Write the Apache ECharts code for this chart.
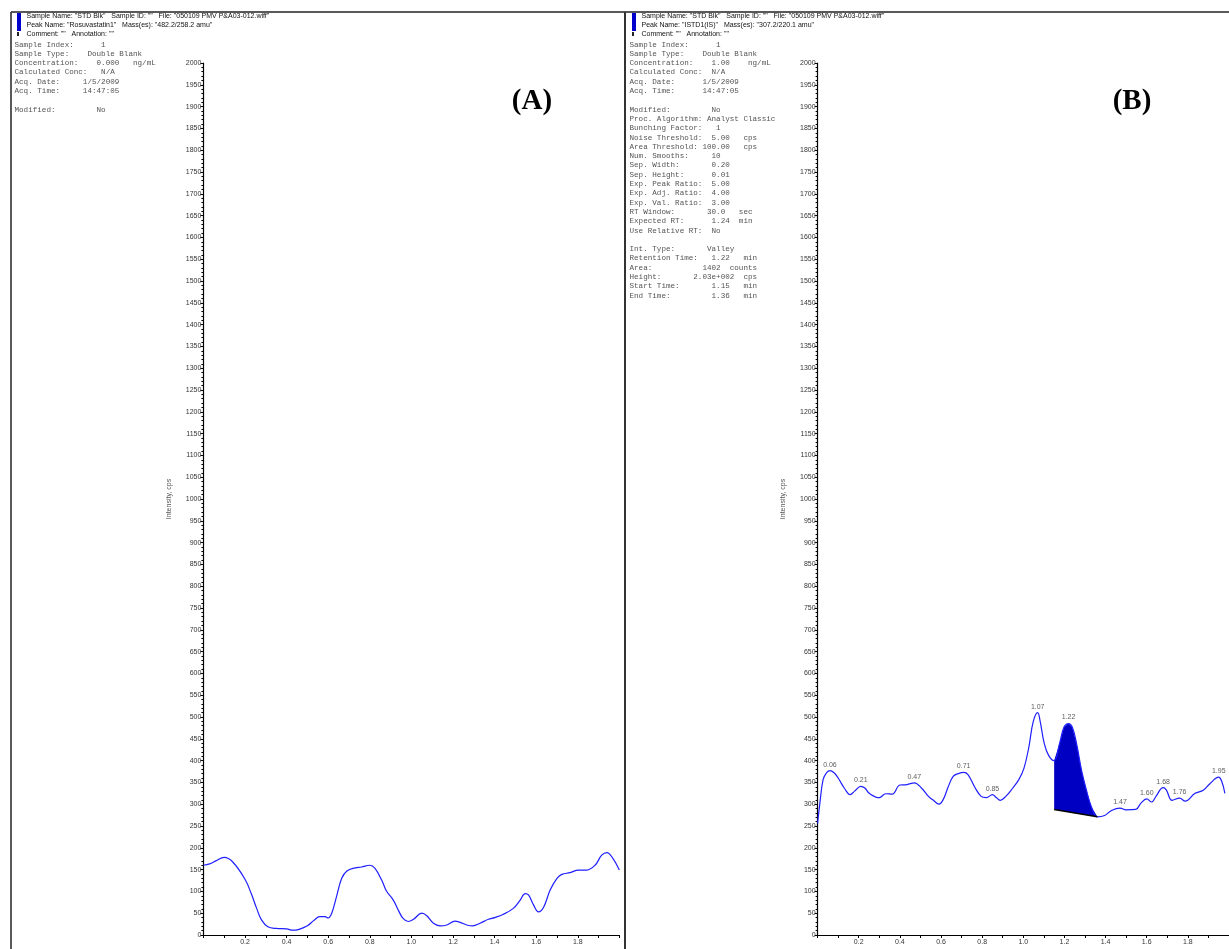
<!DOCTYPE html>
<html>
<head>
<meta charset="utf-8">
<title>Rosuvastatin / ISTD blank chromatograms</title>
<script src="https://cdn.jsdelivr.net/npm/echarts@6/dist/echarts.min.js"></script>
<style>
  html, body { margin: 0; padding: 0; background: #fff; }
  #chart { width: 1229px; height: 949px; }
</style>
</head>
<body>
<div id="chart"></div>
<script>
// ---- Panel A: Rosuvastatin1 (482.2/258.2 amu), double blank ----
const timeA = [0, 0.03, 0.06, 0.1, 0.14, 0.2, 0.23, 0.256, 0.28, 0.31,
  0.35, 0.4, 0.43, 0.46, 0.5, 0.53, 0.56, 0.585, 0.6, 0.617,
  0.64, 0.665, 0.69, 0.73, 0.76, 0.8, 0.825, 0.857, 0.88, 0.913,
  0.937, 0.96, 0.985, 1.01, 1.05, 1.074, 1.106, 1.138, 1.17, 1.21,
  1.234, 1.266, 1.295, 1.33, 1.37, 1.40, 1.44, 1.49, 1.523, 1.547,
  1.563, 1.587, 1.611, 1.635, 1.667, 1.70, 1.723, 1.763, 1.803, 1.843,
  1.883, 1.915, 1.94, 1.964, 2.0];
const intensityA = [160, 163, 170, 178, 168, 128, 95, 61, 34, 19,
  15, 14, 11, 13, 21, 33, 42, 42, 39, 50,
  88, 130, 147, 154, 156, 160, 153, 126, 101, 80,
  57, 38, 31, 36, 50, 44, 27, 21, 23, 32,
  29, 23, 21, 27, 36, 40, 47, 61, 80, 95,
  92, 69, 53, 63, 103, 130, 139, 143, 149, 149,
  160, 183, 189, 179, 149];

// ---- Panel B: ISTD1(IS) (307.2/220.1 amu) ----
const timeB = [0, 0.011, 0.027, 0.045, 0.06, 0.08, 0.1, 0.131, 0.158, 0.18,
  0.21, 0.23, 0.251, 0.3, 0.331, 0.363, 0.4, 0.435, 0.47, 0.507,
  0.539, 0.563, 0.59, 0.611, 0.635, 0.659, 0.683, 0.71, 0.731, 0.763,
  0.795, 0.82, 0.85, 0.867, 0.888, 0.915, 0.947, 0.979, 1.003, 1.027,
  1.048, 1.07, 1.082, 1.102, 1.123, 1.15, 1.176, 1.198, 1.22, 1.238,
  1.259, 1.283, 1.307, 1.331, 1.36, 1.395, 1.427, 1.47, 1.5, 1.547,
  1.571, 1.6, 1.624, 1.645, 1.68, 1.695, 1.723, 1.76, 1.787, 1.835,
  1.875, 1.907, 1.95, 1.965, 1.98];
const intensityB = [256, 302, 357, 373, 377, 372, 360, 336, 322, 330,
  341, 337, 325, 315, 324, 323, 344, 345, 349, 336,
  318, 309, 300, 311, 340, 364, 370, 373, 368, 340,
  318, 315, 322, 316, 309, 318, 336, 357, 382, 431,
  489, 510, 490, 439, 412, 400, 439, 477, 485, 477,
  439, 378, 332, 294, 271, 274, 285, 291, 287, 288,
  302, 312, 305, 318, 338, 333, 309, 314, 307, 325,
  332, 347, 362, 352, 325];

// retention times annotated above the apexes of panel B
const peakTimesB = [0.06, 0.21, 0.47, 0.71, 0.85, 1.07, 1.22, 1.47, 1.60, 1.68, 1.76, 1.95];

// integrated IS peak (valley to valley) and its baseline end values
const integStart = 1.15, integEnd = 1.36;
const baselineStartValue = 288, baselineEndValue = 271;

// ---- header and result-table text ----
const headerA = [
  'Sample Name: "STD Blk"   Sample ID: ""   File: "050109 PMV P&A03-012.wiff"',
  'Peak Name: "Rosuvastatin1"   Mass(es): "482.2/258.2 amu"',
  'Comment: ""   Annotation: ""'
];
const headerB = [
  'Sample Name: "STD Blk"   Sample ID: ""   File: "050109 PMV P&A03-012.wiff"',
  'Peak Name: "ISTD1(IS)"   Mass(es): "307.2/220.1 amu"',
  'Comment: ""   Annotation: ""'
];
const infoA = [
  'Sample Index:      1',
  'Sample Type:    Double Blank',
  'Concentration:    0.000   ng/mL',
  'Calculated Conc:   N/A',
  'Acq. Date:     1/5/2009',
  'Acq. Time:     14:47:05',
  '',
  'Modified:         No'
];
const infoB = [
  'Sample Index:      1',
  'Sample Type:    Double Blank',
  'Concentration:    1.00    ng/mL',
  'Calculated Conc:  N/A',
  'Acq. Date:      1/5/2009',
  'Acq. Time:      14:47:05',
  '',
  'Modified:         No',
  'Proc. Algorithm: Analyst Classic',
  'Bunching Factor:   1',
  'Noise Threshold:  5.00   cps',
  'Area Threshold: 100.00   cps',
  'Num. Smooths:     10',
  'Sep. Width:       0.20',
  'Sep. Height:      0.01',
  'Exp. Peak Ratio:  5.00',
  'Exp. Adj. Ratio:  4.00',
  'Exp. Val. Ratio:  3.00',
  'RT Window:       30.0   sec',
  'Expected RT:      1.24  min',
  'Use Relative RT:  No',
  '',
  'Int. Type:       Valley',
  'Retention Time:   1.22   min',
  'Area:           1402  counts',
  'Height:       2.03e+002  cps',
  'Start Time:       1.15   min',
  'End Time:         1.36   min'
];
const yAxisTitle = 'Intensity, cps';

// ---------------------------------------------------------------
const chart = echarts.init(document.getElementById('chart'), null, { renderer: 'canvas' });

const LINE_BLUE = '#1f1fff';
const FILL_BLUE = '#0000c2';
const SANS = '"Liberation Sans", Arial, sans-serif';
const MONO = '"Liberation Mono", "Courier New", monospace';

function pairs(xs, ys) { return xs.map((x, i) => [x, ys[i]]); }

function makeXAxis(gridIndex) {
  return {
    type: 'value', gridIndex, min: 0, max: 2, interval: 0.2,
    axisLine: { show: true, onZero: false, lineStyle: { color: '#000', width: 1.2 } },
    axisTick: { show: true, length: 3, lineStyle: { color: '#000' } },
    minorTick: { show: true, splitNumber: 2, length: 3, lineStyle: { color: '#000' } },
    axisLabel: {
      fontSize: 7, fontFamily: SANS, color: '#333', margin: 4,
      showMinLabel: false, showMaxLabel: false,
      formatter: v => v.toFixed(1)
    },
    splitLine: { show: false }
  };
}
function makeYAxis(gridIndex) {
  return {
    type: 'value', gridIndex, min: 0, max: 2000, interval: 50,
    name: yAxisTitle, nameLocation: 'middle', nameGap: 31,
    nameTextStyle: { fontSize: 7, fontFamily: SANS, color: '#555' },
    axisLine: { show: true, onZero: false, lineStyle: { color: '#000', width: 1.2 } },
    axisTick: { show: true, length: 3, lineStyle: { color: '#000' } },
    minorTick: { show: true, splitNumber: 5, length: 2, lineStyle: { color: '#000' } },
    axisLabel: { fontSize: 7, fontFamily: SANS, color: '#333', margin: 2, formatter: v => String(v) },
    splitLine: { show: false }
  };
}

const curveB = pairs(timeB, intensityB);
const peakLabelData = peakTimesB.map(t => [t, intensityB[timeB.indexOf(t)]]);

// graphic overlay: frame lines, header markers, text tables, panel letters
const graphics = [];
const frame = { stroke: '#222', lineWidth: 1.5 };
graphics.push({ type: 'line', shape: { x1: 11, y1: 12, x2: 1229, y2: 12 }, style: frame, silent: true });
graphics.push({ type: 'line', shape: { x1: 11, y1: 12, x2: 11, y2: 949 }, style: frame, silent: true });
graphics.push({ type: 'line', shape: { x1: 625, y1: 12, x2: 625, y2: 949 }, style: { stroke: '#333', lineWidth: 2 }, silent: true });

function addHeaderBlock(x0, header, info) {
  graphics.push({ type: 'rect', shape: { x: x0 + 6, y: 13, width: 4, height: 18 }, style: { fill: '#0000cc' }, silent: true });
  graphics.push({ type: 'rect', shape: { x: x0 + 6, y: 32, width: 2, height: 4 }, style: { fill: '#222' }, silent: true });
  header.forEach((t, i) => {
    graphics.push({
      type: 'text', x: x0 + 15.5, y: 16.5 + i * 8.8, silent: true,
      style: { text: t, fontSize: 7, fontFamily: SANS, fill: '#111', verticalAlign: 'middle', align: 'left' }
    });
  });
  info.forEach((t, i) => {
    if (!t) return;
    graphics.push({
      type: 'text', x: x0 + 3.5, y: 44.5 + i * 9.3, silent: true,
      style: { text: t, fontSize: 7.6, fontFamily: MONO, fill: '#555', verticalAlign: 'middle', align: 'left' }
    });
  });
}
addHeaderBlock(11, headerA, infoA);
addHeaderBlock(626, headerB, infoB);

graphics.push({ type: 'text', x: 532, y: 102, silent: true,
  style: { text: '(A)', fontSize: 29, fontWeight: 'bold', fontFamily: '"Liberation Serif", "Times New Roman", serif', fill: '#000', align: 'center', verticalAlign: 'middle' } });
graphics.push({ type: 'text', x: 1132, y: 102, silent: true,
  style: { text: '(B)', fontSize: 29, fontWeight: 'bold', fontFamily: '"Liberation Serif", "Times New Roman", serif', fill: '#000', align: 'center', verticalAlign: 'middle' } });

const option = {
  animation: false,
  backgroundColor: '#fff',
  grid: [
    { left: 203.4, top: 63, width: 416, height: 872, containLabel: false },
    { left: 817.6, top: 63, width: 416.8, height: 872, containLabel: false }
  ],
  xAxis: [makeXAxis(0), makeXAxis(1)],
  yAxis: [makeYAxis(0), makeYAxis(1)],
  series: [
    {
      name: 'Rosuvastatin1', type: 'line', xAxisIndex: 0, yAxisIndex: 0,
      data: pairs(timeA, intensityA), smooth: 0.4, showSymbol: false,
      lineStyle: { color: LINE_BLUE, width: 1.2 }, z: 3
    },
    {
      // integrated area of the ISTD peak, bounded by the curve and the drop baseline
      name: 'ISTD1 area', type: 'custom', xAxisIndex: 1, yAxisIndex: 1,
      data: [[integStart, baselineStartValue]], z: 2,
      renderItem: (params, api) => {
        const pts = [api.coord([integStart, baselineStartValue])];
        timeB.forEach((t, i) => {
          if (t >= integStart && t <= integEnd) pts.push(api.coord([t, intensityB[i]]));
        });
        pts.push(api.coord([integEnd, baselineEndValue]));
        return { type: 'polygon', shape: { points: pts }, style: { fill: FILL_BLUE } };
      }
    },
    {
      name: 'ISTD1 baseline', type: 'line', xAxisIndex: 1, yAxisIndex: 1,
      data: [[integStart, baselineStartValue], [integEnd, baselineEndValue]],
      showSymbol: false, lineStyle: { color: '#000', width: 1.5 }, z: 4
    },
    {
      name: 'ISTD1(IS)', type: 'line', xAxisIndex: 1, yAxisIndex: 1,
      data: curveB, smooth: 0.4, showSymbol: false,
      lineStyle: { color: LINE_BLUE, width: 1.2 }, z: 3
    },
    {
      name: 'peak RT', type: 'scatter', xAxisIndex: 1, yAxisIndex: 1,
      data: peakLabelData, symbolSize: 1, itemStyle: { color: 'transparent' }, z: 5,
      label: {
        show: true, position: 'top', distance: 2,
        fontSize: 7, fontFamily: SANS, color: '#333',
        formatter: p => p.value[0].toFixed(2)
      }
    }
  ],
  graphic: graphics
};

chart.setOption(option);
</script>
</body>
</html>
